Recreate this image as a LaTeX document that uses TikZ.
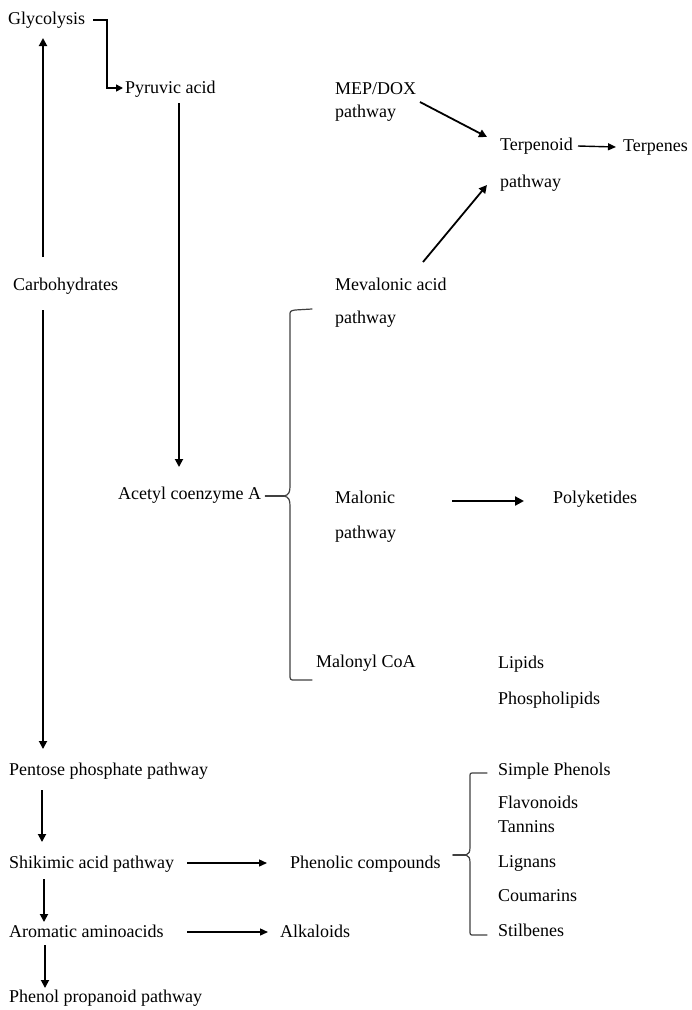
\documentclass[tikz,border=0pt]{standalone}
\usepackage{fontspec}
\setmainfont{Liberation Serif}
\usetikzlibrary{arrows.meta}
\begin{document}
\begin{tikzpicture}[x=1pt,y=-1pt,
  lbl/.style={anchor=base west,inner sep=0pt,font=\fontsize{18}{22}\selectfont},
  arr/.style={line width=1.8pt,-{Triangle[length=8pt,width=8pt]}},
  thinarr/.style={line width=1.4pt,-{Triangle[length=8pt,width=7pt]}},
  bracepath/.style={line width=1.2pt,draw=black!75,line cap=round}]
\useasboundingbox (0,0) rectangle (692,1010);
\clip (0,0) rectangle (692,1010);

% left column
\node[lbl] (glyc) at (8,24) {Glycolysis};
\node[lbl] (pyr) at (125,93) {Pyruvic acid};
\node[lbl] (carb) at (13,290) {Carbohydrates};
\node[lbl] (acet) at (118,499) {Acetyl coenzyme A};
\node[lbl] (pent) at (9,775) {Pentose phosphate pathway};
\node[lbl] (shik) at (9,868) {Shikimic acid pathway};
\node[lbl] (arom) at (9,937) {Aromatic aminoacids};
\node[lbl] (phpr) at (9,1002) {Phenol propanoid pathway};

% middle column
\node[lbl] (mep1) at (335,94) {MEP/DOX};
\node[lbl] (mep2) at (335,117) {pathway};
\node[lbl] (meva1) at (335,290) {Mevalonic acid};
\node[lbl] (meva2) at (335,323) {pathway};
\node[lbl] (malo1) at (335,503) {Malonic};
\node[lbl] (malo2) at (335,538) {pathway};
\node[lbl] (malcoa) at (316,667) {Malonyl CoA};
\node[lbl] (phen) at (290,868) {Phenolic compounds};
\node[lbl] (alk) at (280,937) {Alkaloids};

% right column
\node[lbl] (terp1) at (500,150) {Terpenoid};
\node[lbl] (terp2) at (500,187) {pathway};
\node[lbl] (terps) at (623,151) {Terpenes};
\node[lbl] (poly) at (553,503) {Polyketides};
\node[lbl] (lip) at (498,668) {Lipids};
\node[lbl] (phos) at (498,704) {Phospholipids};
\node[lbl] (simple) at (498,775) {Simple Phenols};
\node[lbl] (flav) at (498,808) {Flavonoids};
\node[lbl] (tann) at (498,832) {Tannins};
\node[lbl] (lign) at (498,867) {Lignans};
\node[lbl] (coum) at (498,901) {Coumarins};
\node[lbl] (stil) at (498,936) {Stilbenes};

% connectors
\draw[line width=1.6pt,-{Triangle[length=7pt,width=7pt]}]
  ([xshift=8pt,yshift=4pt]glyc.base east)
  -| ([xshift=-18pt,yshift=5pt]pyr.base west)
  -- ([xshift=-2pt,yshift=5pt]pyr.base west);
\draw[arr] ([xshift=30pt,yshift=33pt]carb.base west) -- ([xshift=35pt,yshift=-14pt]glyc.base west);
\draw[arr] ([xshift=30pt,yshift=-20pt]carb.base west) -- ([xshift=34pt,yshift=26pt]pent.base west);
\draw[arr] ([xshift=54pt,yshift=-10pt]pyr.base west) -- ([xshift=61pt,yshift=32pt]acet.base west);
\draw[arr] ([xshift=33pt,yshift=-15pt]pent.base west) -- ([xshift=33pt,yshift=26pt]shik.base west);
\draw[arr] ([xshift=35pt,yshift=-11pt]shik.base west) -- ([xshift=35pt,yshift=15pt]arom.base west);
\draw[arr] ([xshift=36pt,yshift=-8pt]arom.base west) -- ([xshift=36pt,yshift=14pt]phpr.base west);
\draw[thinarr] ([xshift=178pt,yshift=5pt]shik.base west) -- ([xshift=-23pt,yshift=5pt]phen.base west);
\draw[thinarr] ([xshift=178pt,yshift=5pt]arom.base west) -- ([xshift=-12pt,yshift=5pt]alk.base west);
\draw[arr] ([xshift=85pt,yshift=-8pt]mep1.base west) -- ([xshift=-13pt,yshift=13pt]terp1.base west);
\draw[arr] ([xshift=88pt,yshift=28pt]meva1.base west) -- ([xshift=-13pt,yshift=2pt]terp2.base west);
\draw[thinarr] ([xshift=78pt,yshift=4pt]terp1.base west) -- ([xshift=-7pt,yshift=4pt]terps.base west);
\draw[line width=2.6pt,-{Triangle[length=9pt,width=9pt]}]
  ([xshift=117pt,yshift=2pt]malo1.base west) -- ([xshift=-29pt,yshift=2pt]poly.base west);

% brace joining acetyl coenzyme A to its three pathways
\coordinate (acbr) at (284,496);
\draw[bracepath] ([xshift=4pt,yshift=3pt]acet.base east) -- (acbr);
\begin{scope}[shift={(acbr)}]
  \draw[bracepath] (0,0) .. controls (5,-1) and (6,-4) .. (6,-10) -- (6,-180)
    .. controls (6,-185) .. (11,-186) -- (28,-187);
  \draw[bracepath] (0,0) .. controls (5,1) and (6,4) .. (6,10) -- (6,178)
    .. controls (6,184) .. (11,184) -- (28,184);
\end{scope}

% brace joining phenolic compounds to its classes
\coordinate (phbr) at (466,855);
\draw[bracepath] ([xshift=12pt,yshift=13pt]phen.base east) -- (phbr);
\begin{scope}[shift={(phbr)}]
  \draw[bracepath] (0,0) .. controls (3,-1) and (4,-3) .. (4,-8) -- (4,-78)
    .. controls (4,-82) .. (8,-82) -- (21,-82);
  \draw[bracepath] (0,0) .. controls (3,1) and (4,3) .. (4,8) -- (4,75)
    .. controls (4,80) .. (8,80) -- (21,80);
\end{scope}
\end{tikzpicture}
\end{document}
